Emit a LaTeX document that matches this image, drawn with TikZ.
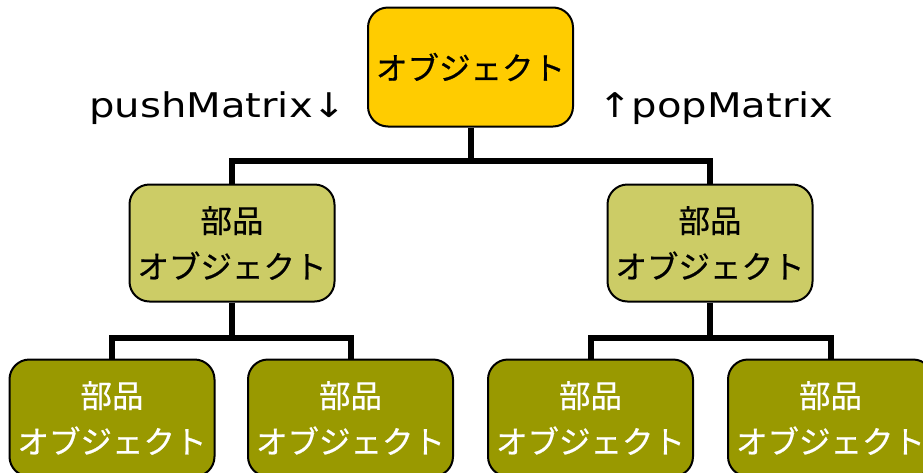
\documentclass[tikz,border=0pt]{standalone}
\usepackage{fontspec}
\setmainfont{DejaVu Sans}
\newfontfamily\jpfont[FakeBold=0.6]{Noto Sans CJK JP}
\newfontfamily\latinfont[FakeStretch=1.18]{DejaVu Sans}
\begin{document}
\begin{tikzpicture}[x=1pt,y=-1pt,
  objbox/.style={draw=black,line width=2pt,rounded corners=20pt,minimum width=205pt,
    inner sep=0pt,align=center,font=\jpfont\fontsize{31.5}{46}\selectfont},
  topbox/.style={objbox,fill=topcol,minimum height=119pt},
  midbox/.style={objbox,fill=midcol,minimum height=117pt},
  lowbox/.style={objbox,fill=lowcol,minimum height=117pt,text=white},
  link/.style={line width=6pt,line join=miter},
  lbl/.style={font=\latinfont\fontsize{34}{40}\selectfont,inner sep=0pt,anchor=base west}]
\definecolor{topcol}{HTML}{FFCC00}
\definecolor{midcol}{HTML}{CCCC66}
\definecolor{lowcol}{HTML}{999900}
\useasboundingbox (0,0) rectangle (923,472);
\clip (0,0) rectangle (923,472);
\node[topbox] (top) at (470.5,67) {オブジェクト};
\node[midbox] (ml) at (232,243) {部品\\オブジェクト};
\node[midbox] (mr) at (710,243) {部品\\オブジェクト};
\node[lowbox] (b1) at (112,418) {部品\\オブジェクト};
\node[lowbox] (b2) at (350.5,418) {部品\\オブジェクト};
\node[lowbox] (b3) at (590.5,418) {部品\\オブジェクト};
\node[lowbox] (b4) at (830.5,418) {部品\\オブジェクト};
% connectors
\draw[link] (top.south) -- ++(0,33) coordinate (j0);
\draw[link] (j0) -| (ml.north);
\draw[link] (j0) -| (mr.north);
\draw[link] (ml.south) -- ++(0,35) coordinate (jl);
\draw[link] (jl) -| (b1.north);
\draw[link] (jl) -| (b2.north);
\draw[link] (mr.south) -- ++(0,35) coordinate (jr);
\draw[link] (jr) -| (b3.north);
\draw[link] (jr) -| (b4.north);
\node[lbl] (push) at (89,117) {pushMatrix↓};
\node[lbl] (pop) at (598,117) {↑popMatrix};
\end{tikzpicture}
\end{document}
